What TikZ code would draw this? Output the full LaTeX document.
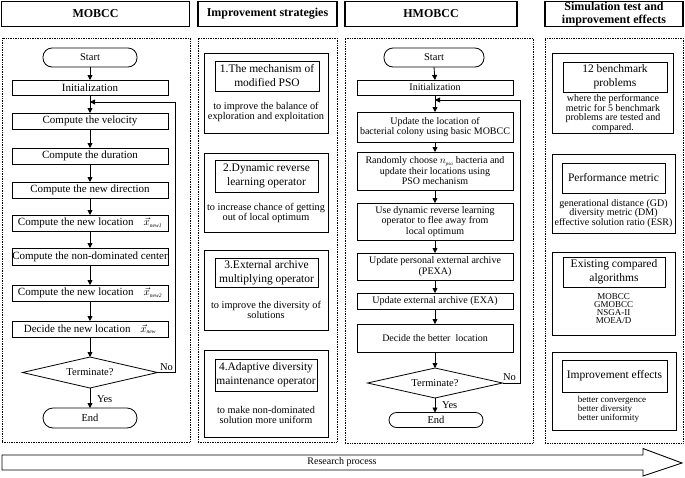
\documentclass[tikz,border=0pt]{standalone}
\usepackage{fontspec}
\setmainfont{Liberation Serif}
\usetikzlibrary{arrows.meta,shapes.geometric}
\newcommand{\vsub}[2]{$\vec{#1}_{\scriptscriptstyle\mathit{#2}}$}
\newcommand{\psub}[2]{$#1_{\scriptscriptstyle\mathit{#2}}$}
\begin{document}
\begin{tikzpicture}[x=1pt,y=-1pt,
  every node/.style={inner sep=0pt, outer sep=0pt},
  hdr/.style={draw, line width=1.1pt, minimum height=25pt, font=\fontsize{12}{12.5}\selectfont\bfseries, align=center},
  panel/.style={draw, densely dotted, line width=0.7pt},
  fb/.style={draw, line width=0.8pt, minimum width=156pt, font=\fontsize{11}{12}\selectfont, align=center},
  hb/.style={draw, line width=0.8pt, minimum width=156pt, font=\fontsize{10}{10.5}\selectfont, align=center},
  term/.style={draw, line width=0.8pt, rounded corners=9pt, minimum width=94pt, font=\fontsize{10.5}{12}\selectfont},
  dia/.style={draw, diamond, aspect=4, line width=0.8pt, minimum width=135pt, font=\fontsize{10.5}{12}\selectfont},
  obox/.style={draw, line width=0.8pt},
  ibox/.style={draw, line width=0.8pt, align=center, font=\fontsize{11.5}{14}\selectfont},
  desc/.style={align=center, font=\fontsize{10.3}{10}\selectfont},
  sdesc/.style={align=center, font=\fontsize{10}{9.7}\selectfont},
  tdesc/.style={align=center, font=\fontsize{9}{7.9}\selectfont},
  arr/.style={-{Triangle[length=5pt,width=5pt]}, line width=0.8pt},
  lbl/.style={font=\fontsize{10.5}{12}\selectfont},
]
\useasboundingbox (0,0) rectangle (685,477);

% headers
\node[hdr, minimum width=188pt] (H1) at (95.5,14) {MOBCC};
\node[hdr, minimum width=139pt] (H2) at (267.5,14) {Improvement strategies};
\node[hdr, minimum width=172pt] (H3) at (431,14) {HMOBCC};
\node[hdr, minimum width=138pt] (H4) at (614,14) {Simulation test and\\improvement effects};

% panels
\node[panel, minimum width=188pt, minimum height=404pt] (P1) at (96,240) {};
\node[panel, minimum width=139pt, minimum height=404pt] (P2) at (267.5,240) {};
\node[panel, minimum width=188pt, minimum height=405pt] (P3) at (439,240.5) {};
\node[panel, minimum width=138pt, minimum height=405pt] (P4) at (614,240.5) {};

% MOBCC flowchart
\node[term, minimum height=19pt] (s1) at (90,57.5) {Start};
\node[fb, minimum height=15pt] (i1) at (90,87.5) {Initialization};
\node[fb, minimum height=16pt] (v1) at (90,121) {Compute the velocity};
\node[fb, minimum height=16pt] (d1) at (90,156) {Compute the duration};
\node[fb, minimum height=16pt] (nd1) at (90,190) {Compute the new direction};
\node[fb, minimum height=16pt] (nl1) at (90,223) {Compute the new location\hspace{10pt}\vsub{x}{new1}};
\node[fb, minimum height=17pt] (nc1) at (90,256.5) {Compute the non-dominated center};
\node[fb, minimum height=16pt] (nl2) at (90,293) {Compute the new location\hspace{10pt}\vsub{x}{new2}};
\node[fb, minimum height=16pt] (dn1) at (90,329) {Decide the new location\hspace{10pt}\vsub{x}{new}};
\node[dia, minimum height=31pt] (t1) at (90,372.5) {Terminate?};
\node[term, minimum height=20pt, rounded corners=10pt] (e1) at (90,418) {End};
\coordinate (j1) at (90,102);
\coordinate (c1) at (175,102);

\draw[arr] (s1.south) -- (i1.north);
\draw[arr] (i1.south) -- (v1.north);
\draw[arr] (v1.south) -- (d1.north);
\draw[arr] (d1.south) -- (nd1.north);
\draw[arr] (nd1.south) -- (nl1.north);
\draw[arr] (nl1.south) -- (nc1.north);
\draw[arr] (nc1.south) -- (nl2.north);
\draw[arr] (nl2.south) -- (dn1.north);
\draw[arr] (dn1.south) -- (t1.north);
\draw[arr] (t1.south) -- (e1.north);
\draw[arr] (t1.east) -| (c1) -- (j1);
\node[lbl, anchor=west] (y1) at (97,399) {Yes};
\node[lbl, anchor=south west] (n1) at (160,371) {No};

% Improvement strategies
\node[obox, minimum width=124pt, minimum height=80pt] (B1) at (266,93) {};
\node[ibox, minimum width=104pt, minimum height=30pt] (I1) at (267,76) {1.The mechanism of\\modified PSO};
\node[desc] (D1) at (266,112) {to improve the balance of\\exploration and exploitation};

\node[obox, minimum width=124pt, minimum height=79pt] (B2) at (266,192.5) {};
\node[ibox, minimum width=103pt, minimum height=32pt] (I2) at (266.5,176) {2.Dynamic reverse\\learning operator};
\node[desc] (D2) at (266,212.5) {to increase chance of getting\\out of local optimum};

\node[obox, minimum width=124pt, minimum height=80pt] (B3) at (266,290) {};
\node[ibox, minimum width=103pt, minimum height=29pt] (I3) at (266.5,272.5) {3.External archive\\multiplying operator};
\node[desc] (D3) at (266,309.5) {to improve the diversity of\\solutions};

\node[obox, minimum width=124pt, minimum height=87pt] (B4) at (266,393.5) {};
\node[ibox, minimum width=102pt, minimum height=32pt] (I4) at (266,375) {4.Adaptive diversity\\maintenance operator};
\node[desc] (D4) at (266,415) {to make non-dominated\\solution more uniform};

% HMOBCC flowchart
\node[term, minimum height=19pt, minimum width=100pt] (s2) at (434,57.5) {Start};
\node[hb, minimum height=15pt] (i2) at (435,87.5) {Initialization};
\node[hb, minimum height=30pt] (u2) at (435,127) {Update the location of\\bacterial colony using basic MOBCC};
\node[hb, minimum height=38pt] (r2) at (435,171) {Randomly choose \psub{n}{pso}\ bacteria and\\update their locations using\\PSO mechanism};
\node[hb, minimum height=37pt] (dr2) at (435,221.5) {Use dynamic reverse learning\\operator to flee away from\\local optimum};
\node[hb, minimum height=27pt] (pe2) at (435,266.5) {Update personal external archive\\(PEXA)};
\node[hb, minimum height=16pt] (ex2) at (435,301) {Update external archive (EXA)};
\node[hb, minimum height=28pt] (db2) at (435,338) {Decide the better\ \ location};
\node[dia, minimum height=30pt] (t2) at (435,383) {Terminate?};
\node[term, minimum height=15pt, rounded corners=7.5pt] (e2) at (436,420) {End};
\coordinate (j2) at (435,100);
\coordinate (c2) at (520,100);

\draw[arr] (s2.south) -- (i2.north);
\draw[arr] (i2.south) -- (u2.north);
\draw[arr] (u2.south) -- (r2.north);
\draw[arr] (r2.south) -- (dr2.north);
\draw[arr] (dr2.south) -- (pe2.north);
\draw[arr] (pe2.south) -- (ex2.north);
\draw[arr] (ex2.south) -- (db2.north);
\draw[arr] (db2.south) -- (t2.north);
\draw[arr] (t2.south) -- (t2.south |- e2.north);
\draw[arr] (t2.east) -| (c2) -- (j2);
\node[lbl, anchor=west] (y2) at (442,405) {Yes};
\node[lbl, anchor=south west] (n2) at (503,381) {No};

% Simulation test
\node[obox, minimum width=121pt, minimum height=80pt] (S1) at (612.5,93) {};
\node[ibox, minimum width=104pt, minimum height=30pt] (J1) at (615,77) {12 benchmark\\problems};
\node[sdesc] (E1) at (613,113.5) {where the performance\\metric for 5 benchmark\\problems are tested and\\compared.};

\node[obox, minimum width=123pt, minimum height=79pt] (S2) at (613.5,193.5) {};
\node[ibox, minimum width=103pt, minimum height=30pt] (J2) at (613.5,178) {Performance metric};
\node[sdesc] (E2) at (613.5,213.5) {generational distance (GD)\\diversity metric (DM)\\effective solution ratio (ESR)};

\node[obox, minimum width=123pt, minimum height=83pt] (S3) at (613.5,293.5) {};
\node[ibox, minimum width=102pt, minimum height=30pt] (J3) at (614,272) {Existing compared\\algorithms};
\node[tdesc] (E3) at (613.5,308.5) {MOBCC\\GMOBCC\\NSGA-II\\MOEA/D};

\node[obox, minimum width=124pt, minimum height=78pt] (S4) at (614,391) {};
\node[ibox, minimum width=105pt, minimum height=32pt] (J4) at (614.5,376) {Improvement effects};
\node[tdesc, align=left] (E4) at (612,409.5) {better convergence\\better diversity\\better uniformity};

% research process arrow
\draw[line width=0.9pt] (2,455) -- (643,455) -- (643,448.5) -- (682,463) -- (643,476) -- (643,470) -- (2,470) -- cycle;
\node[font=\fontsize{10}{12}\selectfont] (rp) at (342,462.5) {Research process};
\end{tikzpicture}
\end{document}
